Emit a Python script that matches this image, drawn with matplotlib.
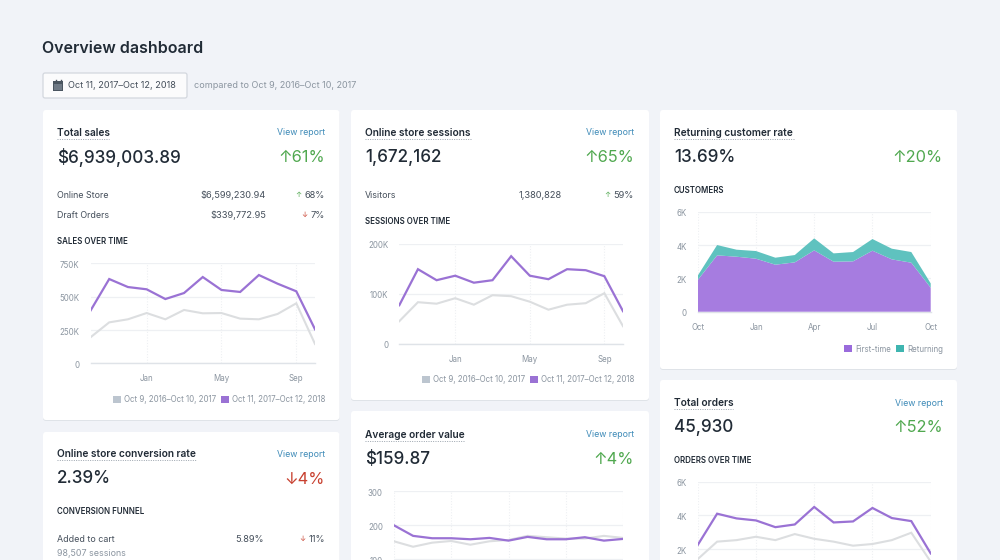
import matplotlib
matplotlib.use("Agg")
import matplotlib.pyplot as plt
from matplotlib.patches import FancyBboxPatch, Rectangle, Patch
from matplotlib.transforms import ScaledTranslation

plt.rcParams['font.family'] = ['Inter', 'DejaVu Sans']

# ---------- data ----------
month_positions = list(range(13))

sales_current = [395, 632, 572, 555, 482, 527, 647, 550, 535, 662, 597, 540, 255]
sales_previous = [195, 307, 330, 377, 330, 400, 375, 377, 335, 330, 370, 450, 145]
sales_yticks = [0, 250, 500, 750]
sales_ylabels = ['0', '250K', '500K', '750K']

sessions_current = [77, 149, 127, 136, 122, 127, 175, 136, 129, 149, 147, 135, 65]
sessions_previous = [45, 83, 80, 91, 78, 97, 95, 84, 68, 78, 81, 101, 35]
sessions_yticks = [0, 100, 200]
sessions_ylabels = ['0', '100K', '200K']

first_time = [1.9, 3.38, 3.3, 3.18, 2.82, 2.96, 3.68, 3.0, 3.02, 3.66, 3.14, 2.94, 1.44]
returning = [0.26, 0.62, 0.42, 0.46, 0.42, 0.44, 0.72, 0.5, 0.56, 0.7, 0.64, 0.64, 0.26]
customers_yticks = [0, 2, 4, 6]
customers_ylabels = ['0', '2K', '4K', '6K']

orders_current = [2.24, 4.1, 3.82, 3.7, 3.3, 3.46, 4.5, 3.58, 3.64, 4.44, 3.84, 3.66, 1.74]
orders_previous = [1.4, 2.44, 2.53, 2.73, 2.53, 2.89, 2.61, 2.44, 2.2, 2.3, 2.53, 2.97, 1.25]
orders_yticks = [2, 4, 6]
orders_ylabels = ['2K', '4K', '6K']

aov_current = [199, 168, 161, 161, 158, 162, 154, 165, 158, 158, 164, 154, 159]
aov_previous = [152, 136, 148, 153, 142, 152, 156, 168, 164, 160, 160, 168, 162]
aov_yticks = [100, 200, 300]
aov_ylabels = ['100', '200', '300']

jan_may_sep_ticks = [3, 7, 11]
jan_may_sep = ['Jan', 'May', 'Sep']
quarter_ticks = [0, 3, 6, 9, 12]
quarter_labels = ['Oct', 'Jan', 'Apr', 'Jul', 'Oct']
range_prev = 'Oct 9, 2016–Oct 10, 2017'
range_cur = 'Oct 11, 2017–Oct 12, 2018'

# ---------- styles ----------
BG = '#f1f3f8'
INK = '#212b36'
BODY = '#454f5b'
MUTED = '#8b95a0'
BLUE = '#3f8bb8'
GREEN = '#50a84f'
RED = '#c8402f'
PURPLE = '#9a72d4'
GREY_LINE = '#dcdee0'
AREA_P = '#a67ce0'
AREA_T = '#5fc2bf'
GRID = '#eef0f3'

W, H = 1000, 560
fig = plt.figure(figsize=(10, 5.6), dpi=100, facecolor=BG)
bg = fig.add_axes([0, 0, 1, 1], zorder=0)
bg.set_xlim(0, W); bg.set_ylim(H, 0); bg.axis('off')


def card(x0, y0, x1, y1):
    bg.add_patch(FancyBboxPatch((x0, y0 + 1), x1 - x0, y1 - y0, boxstyle='round,pad=0,rounding_size=3',
                                fc='#dfe3e8', ec='none', zorder=1))
    bg.add_patch(FancyBboxPatch((x0, y0), x1 - x0, y1 - y0, boxstyle='round,pad=0,rounding_size=3',
                                fc='white', ec='none', zorder=2))


def t(x, y, s, size=6.5, color=BODY, weight='normal', ha='left', **kw):
    return bg.text(x, y + size * 0.16, s, fontsize=size, color=color, fontweight=weight,
                   ha=ha, va='center', zorder=5, **kw)


def header(x0, x1, y, title, value, change, up=True, report=True, ul=None):
    t(x0, y, title, size=7.3, color=INK, weight='semibold')
    bg.plot([x0, x0 + ul], [y + 7, y + 7], color='#9aa3ad', lw=0.7, ls=(0, (1, 1.4)), zorder=5)
    if report:
        t(x1, y, 'View report', size=6.3, color=BLUE, ha='right')
    t(x0, y + 24, value, size=12.3, color=INK, weight='medium')
    t(x1, y + 24, ('↑' if up else '↓') + change, size=11.8, color=GREEN if up else RED, ha='right')


def row(x0, x_mid, x_end, y, label, val, change, up=True):
    t(x0, y, label, size=6.4)
    t(x_mid, y, val, size=6.7, ha='right')
    txt = t(x_end, y, change, size=6.7, ha='right')
    left = txt.get_window_extent(fig.canvas.get_renderer()).x0
    t(left - 3, y, '↑' if up else '↓', size=5.3, color=GREEN if up else RED, ha='right')


def chart(x0, x1, ytop, ybot, ymin, ymax, yticks, ylabels, xticks, xlabels):
    ax = fig.add_axes([x0 / W, 1 - ybot / H, (x1 - x0) / W, (ybot - ytop) / H], zorder=3)
    ax.patch.set_alpha(0)
    ax.set_xlim(0, 12); ax.set_ylim(ymin, ymax)
    for s in ax.spines.values():
        s.set_visible(False)
    ax.set_xticks(xticks); ax.set_xticklabels(xlabels)
    ax.set_yticks(yticks); ax.set_yticklabels(ylabels)
    ax.tick_params(length=0, labelsize=5.7, labelcolor=MUTED, pad=8)
    ax.tick_params(axis='x', pad=8)
    ax.grid(axis='y', color=GRID, lw=0.9, zorder=0)
    ax.grid(axis='x', color=GRID, lw=0.8, ls=(0, (1, 1.5)), zorder=0)
    if ymin == 0:
        ax.axhline(0, color='#dfe3e8', lw=1, zorder=1, clip_on=False)
    ax.set_axisbelow(True)
    shift = ScaledTranslation(0, -1.2 / 100, fig.dpi_scale_trans)
    for lab in ax.get_yticklabels():
        lab.set_transform(lab.get_transform() + shift)
    return ax


def two_lines(ax, prev, cur):
    ax.plot(month_positions, prev, color=GREY_LINE, lw=1.5, solid_joinstyle='miter', zorder=3)
    ax.plot(month_positions, cur, color=PURPLE, lw=1.6, solid_joinstyle='miter', zorder=4)


def legend(ax, handles, right_px, y_px):
    ax.legend(handles=handles, loc='center right', bbox_to_anchor=(right_px / W, 1 - y_px / H),
              bbox_transform=fig.transFigure, frameon=False, ncol=len(handles), fontsize=5.7,
              labelcolor=MUTED, handlelength=0.95, handleheight=0.95, handletextpad=0.45,
              columnspacing=0.6, borderpad=0, borderaxespad=0)


range_handles = [Patch(fc='#bcc5cf', ec='none', label=range_prev), Patch(fc=PURPLE, ec='none', label=range_cur)]

# ---------- page header ----------
t(42, 46.5, 'Overview dashboard', size=11.5, color=INK, weight='semibold')
bg.add_patch(FancyBboxPatch((43, 73), 144, 25, boxstyle='round,pad=0,rounding_size=2',
                            fc='#fbfbfc', ec='#d3d7de', lw=0.9, zorder=2))
bg.add_patch(Rectangle((52.5, 81), 10.5, 10, fc='#4a5560', ec='none', zorder=3))
bg.add_patch(Rectangle((53.5, 84), 8.5, 6, fc='#6f7a86', ec='none', zorder=4))
bg.plot([55.5, 55.5], [79.5, 82], color='#4a5560', lw=1, zorder=4)
bg.plot([60.5, 60.5], [79.5, 82], color='#4a5560', lw=1, zorder=4)
t(68, 84.5, range_cur, size=6.6, color=BODY)
t(194, 84.5, 'compared to ' + range_prev, size=6.5, color=MUTED)

# ---------- cards ----------
card(43, 110, 339.5, 420)
card(351, 110, 649, 400)
card(660, 110, 957, 369)
card(660, 380, 957, 600)
card(351, 411, 649, 600)
card(43, 432, 339.5, 600)

SECTION = 5.7

# Total sales
header(57, 325, 131.5, 'Total sales', '$6,939,003.89', '61%', ul=52)
row(57, 266, 325, 194.5, 'Online Store', '$6,599,230.94', '68%')
row(57, 266, 325, 214, 'Draft Orders', '$339,772.95', '7%', up=False)
t(57, 240.5, 'SALES OVER TIME', size=SECTION, color=INK, weight='semibold')
ax = chart(90.5, 315, 263.3, 363.3, 0, 750, sales_yticks, sales_ylabels, jan_may_sep_ticks, jan_may_sep)
two_lines(ax, sales_previous, sales_current)
legend(ax, range_handles, 325.5, 400)

# Online store sessions
header(365, 634, 131.5, 'Online store sessions', '1,672,162', '65%', ul=106)
row(365, 562, 634, 194.5, 'Visitors', '1,380,828', '59%')
t(365, 220.5, 'SESSIONS OVER TIME', size=SECTION, color=INK, weight='semibold')
ax = chart(399.3, 623, 243.7, 343.7, 0, 200, sessions_yticks, sessions_ylabels, jan_may_sep_ticks, jan_may_sep)
two_lines(ax, sessions_previous, sessions_current)
legend(ax, range_handles, 634.5, 380)

# Returning customer rate
header(674, 943, 131.5, 'Returning customer rate', '13.69%', '20%', report=False, ul=120)
t(674, 189.5, 'CUSTOMERS', size=SECTION, color=INK, weight='semibold')
ax = chart(697.7, 930.7, 211.7, 311.7, 0, 6, customers_yticks, customers_ylabels, quarter_ticks, quarter_labels)
ax.stackplot(month_positions, first_time, returning, colors=[AREA_P, AREA_T], lw=0, zorder=3)
legend(ax, [Patch(fc='#9a6bdc', ec='none', label='First-time'), Patch(fc='#3fb5b0', ec='none', label='Returning')], 943, 349)

# Total orders (the page cuts this chart off)
header(674, 943, 402, 'Total orders', '45,930', '52%', ul=59)
t(674, 460, 'ORDERS OVER TIME', size=SECTION, color=INK, weight='semibold')
ax = chart(697.7, 930.7, 481.7, 560, 1.35, 6, orders_yticks, orders_ylabels, quarter_ticks, [''] * 5)
two_lines(ax, orders_previous, orders_current)

# Average order value (the page cuts this chart off)
header(365, 634, 433.5, 'Average order value', '$159.87', '4%', ul=99)
ax = chart(394, 623, 491, 560, 97, 300, aov_yticks, aov_ylabels, quarter_ticks, [''] * 5)
two_lines(ax, aov_previous, aov_current)

# Conversion rate
header(57, 325, 453, 'Online store conversion rate', '2.39%', '4%', up=False, ul=139)
t(57, 510.5, 'CONVERSION FUNNEL', size=SECTION, color=INK, weight='semibold')
row(57, 264, 325, 538, 'Added to cart', '5.89%', '11%', up=False)
t(57, 552, '98,507 sessions', size=6.4, color=MUTED)

fig.savefig('out.png', dpi=100, facecolor=fig.get_facecolor())
